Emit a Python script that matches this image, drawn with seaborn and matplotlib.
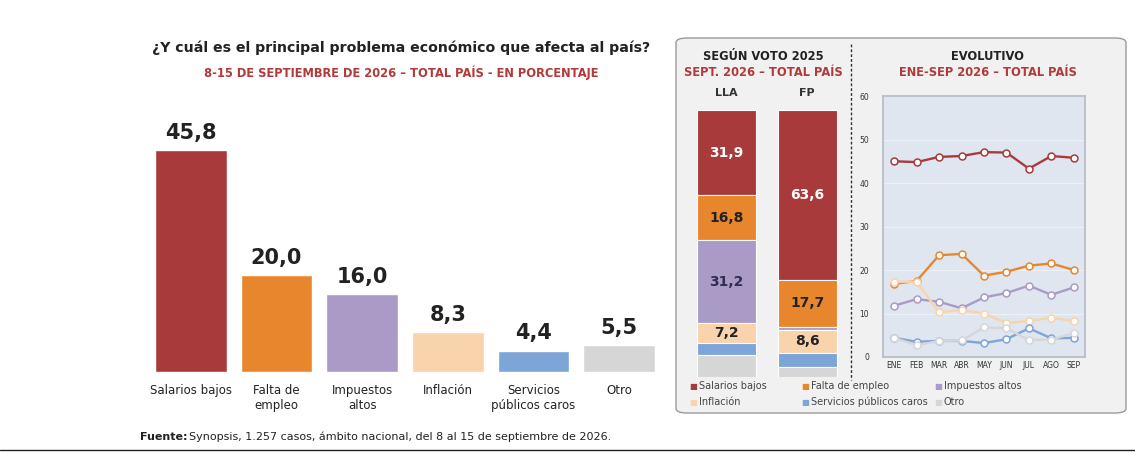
import matplotlib
matplotlib.use("Agg")
import matplotlib.pyplot as plt
from matplotlib.patches import FancyBboxPatch
import seaborn as sns
import pandas as pd
import numpy as np

sns.set_theme(style="white")
plt.rcParams['font.family'] = ['DejaVu Sans']

categories = ["Salarios bajos", "Falta de empleo", "Impuestos altos", "Inflación", "Servicios públicos caros", "Otro"]
cat_labels = ["Salarios bajos", "Falta de\nempleo", "Impuestos\naltos", "Inflación", "Servicios\npúblicos caros", "Otro"]
totals = [45.8, 20.0, 16.0, 8.3, 4.4, 5.5]
colors = ["#a83a3c", "#e8862e", "#a99bc6", "#f8d3ab", "#7da5d8", "#d6d6d6"]

groups = ["LLA", "FP"]
lla = [31.9, 16.8, 31.2, 7.2, 4.6, 8.3]
fp = [63.6, 17.7, 1.0, 8.6, 5.5, 3.6]

months = ["ENE", "FEB", "MAR", "ABR", "MAY", "JUN", "JUL", "AGO", "SEP"]
ev_salarios = [45.0, 44.8, 46.0, 46.2, 47.1, 47.0, 43.3, 46.2, 45.8]
ev_falta = [16.8, 17.5, 23.4, 23.7, 18.7, 19.6, 21.0, 21.5, 20.0]
ev_impuestos = [11.8, 13.3, 12.7, 11.2, 13.7, 14.7, 16.4, 14.3, 16.0]
ev_inflacion = [17.3, 17.3, 10.3, 10.8, 10.0, 7.8, 8.3, 9.0, 8.3]
ev_servicios = [4.4, 3.5, 3.7, 3.7, 3.2, 4.1, 6.6, 4.3, 4.4]
ev_otro = [4.4, 2.7, 3.7, 3.8, 6.8, 6.6, 3.9, 4.0, 5.5]

W, H = 1135, 453
fig = plt.figure(figsize=(W/100, H/100), dpi=100)
fig.patch.set_facecolor("white")
def ax_at(x0, y0, x1, y1):
    a = fig.add_axes([x0/W, 1-y1/H, (x1-x0)/W, (y1-y0)/H])
    a.set_zorder(2)
    return a
def ftext(x, y, s, **kw):
    fig.text(x/W, 1-y/H, s, **kw)

red = "#b23a3a"
ftext(401, 48, "¿Y cuál es el principal problema económico que afecta al país?", ha="center", va="center", fontsize=10.2, fontweight="bold", color="#222222")
ftext(401, 73, "8-15 DE SEPTIEMBRE DE 2026 – TOTAL PAÍS - EN PORCENTAJE", ha="center", va="center", fontsize=8.3, fontweight="bold", color=red)

ax = ax_at(148, 120, 662, 372)
df = pd.DataFrame({"cat": categories, "val": totals})
sns.barplot(data=df, x="cat", y="val", hue="cat", palette=colors, legend=False, ax=ax, width=0.84, saturation=1)
ax.set_xlim(-0.5, 5.5); ax.set_ylim(0, 52)
ax.axis("off")
for i, v in enumerate(totals):
    ax.text(i, v + 1.5, f"{v:.1f}".replace(".", ","), ha="center", va="bottom", fontsize=15, fontweight="bold", color="#222222")
    ax.text(i, -2.5, cat_labels[i], ha="center", va="top", fontsize=8.5, color="#222222")

panel = FancyBboxPatch((676/W, 1-413/H), 450/W, 375/H, boxstyle="round,pad=0,rounding_size=0.01",
                       transform=fig.transFigure, facecolor="#f1f1f1", edgecolor="#9a9a9a", lw=1, zorder=-5)
fig.patches.append(panel)
fig.add_artist(plt.Line2D([851/W, 851/W], [1-44/H, 1-380/H], transform=fig.transFigure, color="#333333", ls=(0, (2, 1.5)), lw=1))
ftext(763, 57, "SEGÚN VOTO 2025", ha="center", va="center", fontsize=8.3, fontweight="bold", color="#222222")
ftext(763, 73, "SEPT. 2026 – TOTAL PAÍS", ha="center", va="center", fontsize=8.3, fontweight="bold", color=red)
ftext(988, 57, "EVOLUTIVO", ha="center", va="center", fontsize=8.3, fontweight="bold", color="#222222")
ftext(988, 73, "ENE-SEP 2026 – TOTAL PAÍS", ha="center", va="center", fontsize=8.3, fontweight="bold", color=red)

ax2 = ax_at(686, 110, 848, 377)
ax2.set_facecolor("none")
stack = pd.DataFrame({"LLA": lla, "FP": fp}, index=categories)
bottom = np.zeros(2)
for j, c in enumerate(categories):
    vals = stack.loc[c, groups].values
    ax2.bar(groups, vals, bottom=bottom, color=colors[j], width=0.72, edgecolor="white", lw=0.8)
    for k, v in enumerate(vals):
        if v >= 7 and j < 4:
            tc = "white" if j == 0 else ("#2e2e4e" if j == 2 else "#222222")
            ax2.text(k, bottom[k] + v/2, f"{v:.1f}".replace(".", ","), ha="center", va="center", fontsize=10, fontweight="bold", color=tc)
    bottom += vals
ax2.set_xlim(-0.5, 1.5); ax2.set_ylim(100, 0)
ax2.axis("off")
ftext(726, 93, "LLA", ha="center", va="center", fontsize=8, fontweight="bold", color="#333333")
ftext(807, 93, "FP", ha="center", va="center", fontsize=8, fontweight="bold", color="#333333")

ax3 = ax_at(883, 96, 1085, 357)
ax3.set_facecolor("#dfe6ef")
series = [ev_salarios, ev_falta, ev_impuestos, ev_inflacion, ev_servicios, ev_otro]
line_df = pd.concat([pd.DataFrame({"m": range(9), "v": s, "c": categories[i]}) for i, s in enumerate(series)])
sns.lineplot(data=line_df, x="m", y="v", hue="c", palette=colors, marker="o", markersize=5,
             markerfacecolor="white", markeredgewidth=1.1, lw=1.7, legend=False, ax=ax3)
for l, c in zip(ax3.lines, colors):
    l.set_markeredgecolor(c)
ax3.set_xlim(-0.5, 8.5); ax3.set_ylim(0, 60)
ax3.set_yticks(range(0, 61, 10))
ax3.set_xticks(range(9)); ax3.set_xticklabels(months)
ax3.tick_params(axis="both", labelsize=5.5, length=0, pad=3, colors="#333333")
ax3.set_xlabel(""); ax3.set_ylabel("")
ax3.grid(axis="y", color="#eef2f6", lw=0.8)
for s in ax3.spines.values():
    s.set_color("#b5bcc5")
ax3.yaxis.set_tick_params(pad=10)

leg = [(693, 386, 0), (805, 386, 1), (938, 386, 2), (693, 402, 3), (805, 402, 4), (938, 402, 5)]
for x, y, i in leg:
    ftext(x, y, "■", ha="center", va="center", fontsize=6, color=colors[i])
    ftext(x + 6, y, categories[i], ha="left", va="center", fontsize=7, color="#444444")

ftext(140, 437, "Fuente:", ha="left", va="center", fontsize=8, fontweight="bold", color="#222222")
ftext(189, 437, "Synopsis, 1.257 casos, ámbito nacional, del 8 al 15 de septiembre de 2026.", ha="left", va="center", fontsize=8, color="#222222")
fig.add_artist(plt.Line2D([0, 1], [1-450/H, 1-450/H], transform=fig.transFigure, color="#222222", lw=1))

fig.savefig("out.png", dpi=100)
